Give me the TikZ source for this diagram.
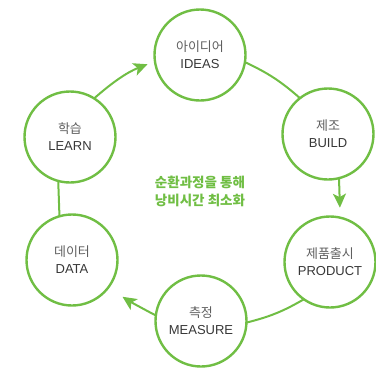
\documentclass[tikz,border=0pt]{standalone}
\usepackage{fontspec}
\setmainfont{Liberation Sans}
\newfontfamily\kr{Noto Sans CJK KR}
\usepackage{xcolor}
\definecolor{colorCycle}{RGB}{112,190,68}
\definecolor{colorLabel}{RGB}{55,55,55}
\definecolor{colorHangul}{RGB}{95,95,95}
\usetikzlibrary{arrows.meta}
\tikzset{
  stage/.style={circle, draw=colorCycle, line width=2.4pt, minimum size=91pt, inner sep=0pt, outer sep=0pt, align=center, font=\fontsize{13}{17}\selectfont, text=colorLabel},
  link/.style={draw=colorCycle, line width=2pt}
}
\newcommand{\stagetext}[2]{{\kr\color{colorHangul}#1}\\#2}

\begin{document}
\begin{tikzpicture}[>={Stealth[length=14pt, width=13pt, inset=3.5pt]}, x=1pt, y=-1pt]
\useasboundingbox (0,0) rectangle (376,370);
\node[stage] (ideas) at (200,55) {\stagetext{아이디어}{IDEAS}};
\node[stage] (build) at (328,134) {\stagetext{제조}{BUILD}};
\node[stage] (product) at (330,262) {\stagetext{제품출시}{PRODUCT}};
\node[stage] (measure) at (201,321) {\stagetext{측정}{MEASURE}};
\node[stage] (data) at (72,260) {\stagetext{데이터}{DATA}};
\node[stage] (learn) at (70,137) {\stagetext{학습}{LEARN}};
\node[align=center, text=colorCycle, font=\kr\bfseries\fontsize{13.5}{18}\selectfont] (motto) at (200,191) {순환과정을 통해\\낭비시간 최소화};
\draw [->, link, shorten >=8pt] (learn.58) to [bend left=10] (ideas.188);
\draw [link] (ideas.-9) to [bend left=8] (build.128);
\draw [->, link, shorten >=10pt] (build.-76) -- (product.77);
\draw [link] (product.235) to [bend left=8] (measure.-2);
\draw [->, link, shorten >=17pt] (measure.173) to [bend left=3] (data.-37);
\draw [link] (data.106) -- (learn.-105);
\end{tikzpicture}
\end{document}
